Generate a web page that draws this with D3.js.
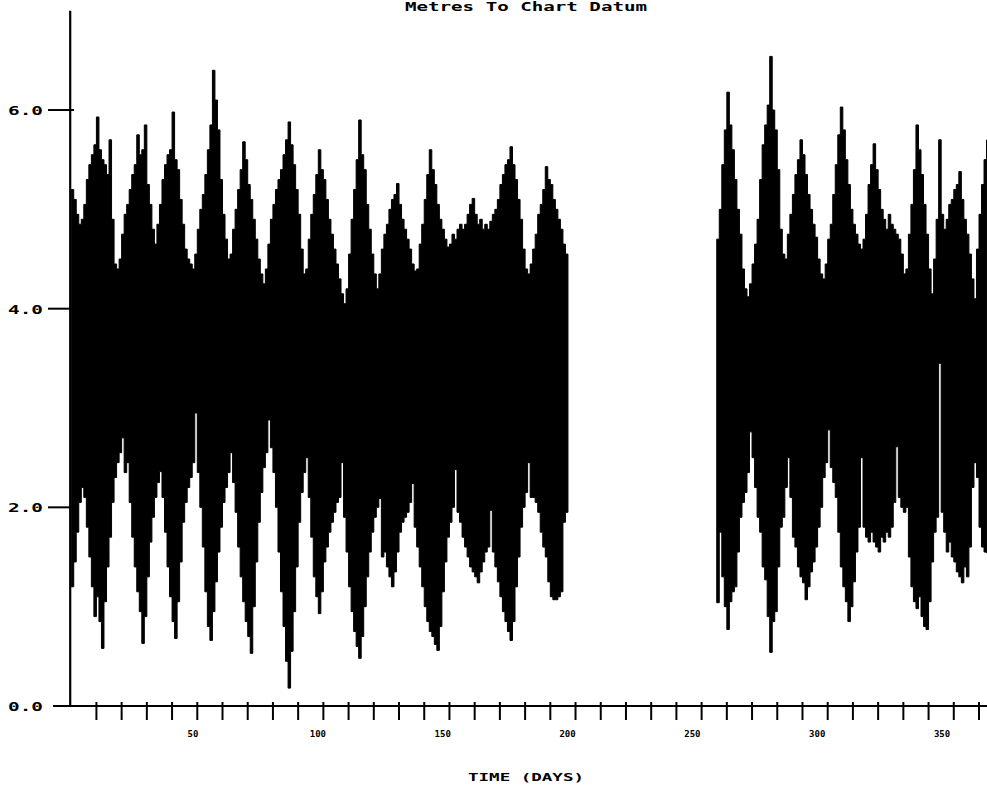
<!DOCTYPE html>
<html>
<head>
<meta charset="utf-8">
<script src="https://cdn.jsdelivr.net/npm/d3@7"></script>
<style>
  html, body { margin: 0; padding: 0; background: #fff; }
  svg { display: block; }
  text { font-family: "DejaVu Sans Mono", "Liberation Mono", monospace; font-weight: bold; fill: #000; }
</style>
</head>
<body>
<svg id="chart" width="987" height="793"></svg>
<script>
// ---- Data: daily tidal envelope (highest high water / lowest low water), metres to chart datum ----
const title = "Metres To Chart Datum";
const xTitle = "TIME (DAYS)";
const yTickValues = [0, 2, 4, 6];
const xTickValues = [10,20,30,40,50,60,70,80,90,100,110,120,130,140,150,160,170,180,190,200,210,220,230,240,250,260,270,280,290,300,310,320,330,340,350,360];
const xLabelValues = [50, 100, 150, 200, 250, 300, 350];

// Segment 1: days 0..197
const seg1Start = 0;
const seg1High = [
  5.20,5.10,4.95,4.85,4.90,5.05,5.30,5.45,5.55,5.65,
  5.93,5.60,5.50,5.45,5.35,5.70,4.90,4.45,4.40,4.50,
  4.75,4.95,5.05,5.20,5.35,5.45,5.75,5.55,5.60,5.85,
  5.25,5.05,4.80,4.65,4.85,5.05,5.30,5.45,5.55,5.60,
  5.98,5.50,5.40,5.10,4.85,4.60,4.50,4.45,4.40,4.55,
  4.80,5.00,5.15,5.35,5.60,5.85,6.40,6.10,5.80,5.30,
  4.95,4.70,4.50,4.55,4.80,5.00,5.20,5.40,5.68,5.50,
  5.25,5.10,4.90,4.70,4.50,4.35,4.25,4.40,4.65,4.90,
  5.05,5.20,5.30,5.40,5.55,5.70,5.88,5.65,5.45,5.20,
  4.95,4.60,4.35,4.40,4.70,4.95,5.15,5.35,5.60,5.40,
  5.30,5.10,4.90,4.75,4.60,4.45,4.30,4.15,4.05,4.20,
  4.55,4.90,5.20,5.50,5.90,5.55,5.40,5.05,4.80,4.55,
  4.35,4.20,4.35,4.60,4.75,4.85,5.00,5.10,5.15,5.26,
  5.05,4.90,4.80,4.70,4.60,4.45,4.38,4.40,4.65,4.85,
  5.10,5.35,5.60,5.40,5.25,5.05,4.90,4.80,4.70,4.62,
  4.65,4.75,4.70,4.80,4.85,4.80,4.85,4.95,5.05,5.11,
  4.95,4.85,4.90,4.80,4.85,4.80,4.88,4.95,5.00,5.10,
  5.25,5.35,5.45,5.50,5.63,5.45,5.30,5.10,4.90,4.60,
  4.40,4.35,4.45,4.60,4.75,4.95,5.05,5.20,5.43,5.30,
  5.25,5.10,5.00,4.90,4.80,4.65,4.55,4.50
];
const seg1Low = [
  1.20,1.45,1.75,2.05,2.20,2.10,1.80,1.50,1.20,0.90,
  1.10,0.85,0.58,1.05,1.40,1.70,2.05,2.30,2.45,2.55,
  2.70,2.35,2.45,2.05,1.70,1.40,1.15,0.95,0.63,0.90,
  1.30,1.65,1.90,2.10,2.25,2.36,2.10,1.75,1.40,1.10,
  0.85,0.68,1.05,1.45,1.85,2.05,2.20,2.30,2.45,2.95,
  2.35,2.00,1.60,1.15,0.80,0.66,0.95,1.25,1.55,1.80,
  2.05,2.20,2.35,2.55,2.25,1.95,1.60,1.30,1.05,0.85,
  0.70,0.53,1.00,1.45,1.85,2.15,2.40,2.55,2.88,2.60,
  2.35,2.00,1.55,1.15,0.80,0.45,0.18,0.55,0.95,1.40,
  1.85,2.15,2.35,2.50,2.10,1.70,1.30,1.10,0.93,1.15,
  1.45,1.60,1.75,1.85,1.95,2.05,2.10,2.45,1.90,1.55,
  1.20,0.95,0.75,0.60,0.48,0.70,1.00,1.30,1.55,1.75,
  1.90,2.00,2.09,1.50,1.55,1.40,1.30,1.20,1.35,1.55,
  1.75,1.85,1.90,1.95,2.05,2.24,1.80,1.60,1.40,1.20,
  1.00,0.85,0.75,0.70,0.62,0.56,0.80,1.15,1.45,1.70,
  1.85,2.00,2.38,1.95,1.85,1.70,1.60,1.50,1.40,1.35,
  1.30,1.24,1.35,1.45,1.55,1.60,1.97,1.55,1.40,1.25,
  1.10,0.95,0.85,0.75,0.66,0.85,1.20,1.50,1.80,2.00,
  2.15,2.45,2.10,2.10,2.05,1.95,1.75,1.60,1.50,1.25,
  1.10,1.07,1.07,1.10,1.15,1.85,1.95,2.00
];

// Segment 2: days 256..363
const seg2Start = 256;
const seg2High = [
  4.70,5.00,5.45,5.80,6.18,5.85,5.60,5.30,5.00,4.75,
  4.40,4.20,4.12,4.25,4.45,4.65,4.90,5.30,5.65,5.85,
  6.05,6.54,6.00,5.80,5.40,4.80,4.55,4.50,4.75,4.95,
  5.15,5.35,5.50,5.70,5.55,5.35,5.15,5.00,4.85,4.72,
  4.50,4.35,4.30,4.45,4.70,4.85,5.15,5.45,5.75,6.03,
  5.80,5.50,5.25,5.00,4.85,4.75,4.65,4.60,4.70,4.95,
  5.25,5.45,5.66,5.40,5.20,5.00,4.90,4.80,4.95,4.85,
  4.80,4.75,4.70,4.55,4.35,4.40,4.75,5.05,5.40,5.85,
  5.60,5.35,5.05,4.75,4.40,4.15,4.50,4.90,5.70,4.95,
  4.80,4.90,5.05,5.10,5.20,5.25,5.38,5.10,4.90,4.75,
  4.55,4.30,4.10,4.60,4.95,5.25,5.50,5.70
];
const seg2Low = [
  1.04,1.75,1.30,1.00,0.77,1.05,1.15,1.20,1.55,1.90,
  2.05,2.15,2.35,2.76,2.50,2.20,1.90,1.75,1.40,1.27,
  0.90,0.54,0.85,0.95,1.40,1.80,1.90,2.20,2.50,2.10,
  1.70,1.60,1.40,1.30,1.24,1.07,1.20,1.35,1.45,1.60,
  1.80,2.00,2.30,2.45,2.78,2.40,2.25,2.10,1.75,1.40,
  1.20,1.05,0.85,1.00,1.25,1.55,1.80,2.50,1.80,1.70,
  1.65,1.75,1.65,1.60,1.55,1.70,1.65,1.75,1.70,1.80,
  2.05,2.61,2.10,2.00,1.95,2.00,1.50,1.20,1.05,0.98,
  1.10,0.90,0.80,0.77,1.05,1.45,1.75,1.90,3.45,1.95,
  1.75,1.55,1.65,1.50,1.45,1.35,1.30,1.24,1.40,1.30,
  1.60,2.20,2.45,2.30,1.80,1.60,1.55,1.54
];

// ---- Build records ----
function toRecords(start, hi, lo) {
  return hi.map((h, i) => ({ day: start + i, hi: h, lo: lo[i] }));
}
const segments = [
  toRecords(seg1Start, seg1High, seg1Low),
  toRecords(seg2Start, seg2High, seg2Low)
];

// ---- Scales ----
const svg = d3.select("#chart");
const x = d3.scaleLinear().domain([0, 360]).range([71.2, 979]);
const y = d3.scaleLinear().domain([0, 7]).range([706, 10.7]);
const fmtY = d3.format(".1f");

// ---- Data area ----
const area = d3.area()
  .x(d => x(d.day))
  .y0(d => y(d.lo))
  .y1(d => y(d.hi))
  .curve(d3.curveStepAfter);

svg.append("g").selectAll("path")
  .data(segments)
  .join("path")
  .attr("d", area)
  .attr("fill", "#000")
  .attr("stroke", "#000")
  .attr("stroke-width", 1);

// ---- Axes lines ----
svg.append("line")
  .attr("x1", x(0) - 1).attr("x2", x(0) - 1)
  .attr("y1", y(7)).attr("y2", y(0) + 1)
  .attr("stroke", "#000").attr("stroke-width", 2.2);

svg.append("line")
  .attr("x1", 53).attr("x2", 987)
  .attr("y1", y(0)).attr("y2", y(0))
  .attr("stroke", "#000").attr("stroke-width", 2.2);

// Y ticks + labels
const yAxisG = svg.append("g");
yAxisG.selectAll("line.yt")
  .data(yTickValues.filter(v => v > 0))
  .join("line")
  .attr("class", "yt")
  .attr("x1", 48).attr("x2", 74)
  .attr("y1", d => y(d)).attr("y2", d => y(d))
  .attr("stroke", "#000").attr("stroke-width", 2);

yAxisG.selectAll("text")
  .data(yTickValues)
  .join("text")
  .attr("x", 43)
  .attr("y", d => y(d) + 5)
  .attr("text-anchor", "end")
  .attr("font-size", 13)
  .attr("textLength", 35)
  .attr("lengthAdjust", "spacingAndGlyphs")
  .text(d => fmtY(d));

// X ticks
const xAxisG = svg.append("g");
xAxisG.selectAll("line")
  .data(xTickValues)
  .join("line")
  .attr("x1", d => x(d)).attr("x2", d => x(d))
  .attr("y1", y(0) - 4).attr("y2", y(0) + 14)
  .attr("stroke", "#000").attr("stroke-width", 2);

xAxisG.selectAll("text")
  .data(xLabelValues)
  .join("text")
  .attr("x", d => x(d) - 3 - d * 0.025)
  .attr("y", 737)
  .attr("text-anchor", "middle")
  .attr("font-size", 9)
  .text(d => d);

// Titles
svg.append("text")
  .attr("x", 526).attr("y", 11)
  .attr("text-anchor", "middle")
  .attr("font-size", 13)
  .attr("textLength", 242)
  .attr("lengthAdjust", "spacingAndGlyphs")
  .text(title);

svg.append("text")
  .attr("x", 526).attr("y", 781)
  .attr("text-anchor", "middle")
  .attr("font-size", 11)
  .attr("textLength", 116)
  .attr("lengthAdjust", "spacingAndGlyphs")
  .text(xTitle);
</script>
</body>
</html>
